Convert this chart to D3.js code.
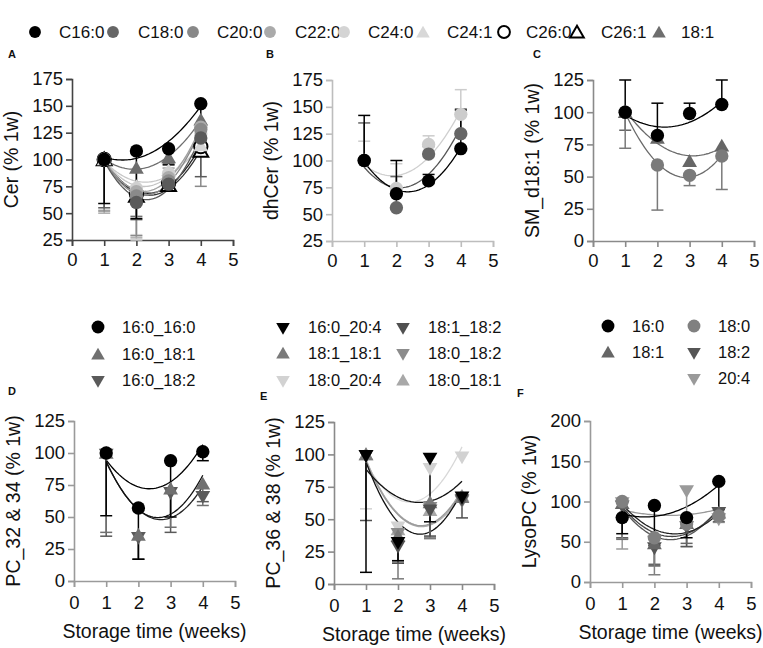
<!DOCTYPE html>
<html><head><meta charset="utf-8">
<script src="https://cdn.jsdelivr.net/npm/d3@7"></script>
<style>body{margin:0;background:#fff}svg{display:block;font-family:"Liberation Sans",Arial,sans-serif}</style>
</head><body><svg id="chart" width="763" height="648"></svg>
<script>
// ---------------- DATA ----------------
const weeks = [1, 2, 3, 4];
const xTickValues = [0, 1, 2, 3, 4, 5];

// A: Cer
const cerSeries = ["C16:0","C18:0","C20:0","C22:0","C24:0","C24:1","C26:0","C26:1","18:1"];
const cerValues = [[100,108,110,152],[100,60,77,120],[100,66,80,128],[100,70,83,130],[100,73,87,124],[100,75,90,113],[100,68,78,112],[100,66,76,108],[100,92,102,137]];
const cerErrEnd = [[59,45,95,108],[55,44,74,84],[52,29,75,75],[50,27,92,114],[53,25,92,116],[null,30,null,null],[null,null,null,null],[null,null,null,null],[97,47,96,113]];
const cerTicks = [25,50,75,100,125,150,175];

// B: dhCer
const dhSeries = ["C16:0","C18:0","C24:0"];
const dhValues = [[100,69,81,111],[100,56,106,125],[100,74,115,143]];
const dhErrEnd = [[142,100,87,147],[135,85,113,148],[118,97,123,166]];
const dhTicks = [25,50,75,100,125,150,175];

// C: SM_d18:1
const smSeries = ["C16:0","C18:0","18:1"];
const smValues = [[100,82,99,106],[100,59,51,66],[100,80,62,74]];
const smErrEnd = [[125,107,107,125],[72,24,43,40],[86,null,null,null]];
const smTicks = [0,25,50,75,100,125];

// D: PC_32 & 34
const pc34Series = ["16:0_16:0","16:0_18:1","16:0_18:2"];
const pc34Values = [[100,57,94,101],[100,36,72,76],[100,35,70,67]];
const pc34ErrEnd = [[51,17,50,94],[38,17,42,59],[35,17,38,62]];
const pc34Ticks = [0,25,50,75,100,125];

// E: PC_36 & 38
const pc38Series = ["16:0_20:4","18:1_18:2","18:1_18:1","18:0_18:2","18:0_20:4","18:0_18:1"];
const pc38Values = [[100,33,98,68],[100,30,58,66],[100,37,63,67],[100,40,60,65],[100,45,90,99],[100,42,57,68]];
const pc38ErrEnd = [[9,18,48,null],[49,16,37,51],[null,4,35,null],[null,17,36,null],[58,null,null,null],[null,null,null,null]];
const pc38Ticks = [0,25,50,75,100,125];

// F: LysoPC
const lysoSeries = ["16:0","18:0","18:1","18:2","20:4"];
const lysoValues = [[80,95,80,125],[100,55,72,82],[98,48,73,86],[96,44,70,88],[100,52,115,80]];
const lysoErrEnd = [[60,45,55,90],[54,9,null,null],[53,22,48,75],[55,20,44,null],[41,null,44,74]];
const lysoTicks = [0,50,100,150,200];

// ---------------- STYLES / LAYOUT ----------------
const svg = d3.select("#chart");
const TICK_FONT = 18.5, TITLE_FONT = 19.5, LEG_FONT = 16.5;

const panels = [
  {letter:"A", lx:8, ly:58, x0:72, x1:233, yTop:79, yBot:240, dom:[25,175], ticks:cerTicks, title:"Cer (% 1w)", axis:"#444",
   names:cerSeries, vals:cerValues, errs:cerErrEnd,
   colors:["#000","#5a5a5a","#8a8a8a","#ababab","#cfcfcf","#d6d6d6","#000","#000","#6e6e6e"],
   curve:["#000","#5a5a5a","#8a8a8a","#a0a0a0","#c4c4c4","#c8c8c8","#222","#333","#6e6e6e"],
   shapes:["circle","circle","circle","circle","circle","tri","ocircle","otri","tri"], xlabel:false},
  {letter:"B", lx:266, ly:58, x0:332, x1:493, yTop:80, yBot:241, dom:[25,175], ticks:dhTicks, title:"dhCer (% 1w)", axis:"#bdbdbd",
   names:dhSeries, vals:dhValues, errs:dhErrEnd,
   colors:["#000","#666","#cccccc"], curve:["#000","#555","#cfcfcf"], shapes:["circle","circle","circle"], xlabel:false},
  {letter:"C", lx:533, ly:58, x0:593, x1:754, yTop:80, yBot:241, dom:[0,125], ticks:smTicks, title:"SM_d18:1 (% 1w)", axis:"#8a8a8a",
   names:smSeries, vals:smValues, errs:smErrEnd,
   colors:["#000","#7a7a7a","#666"], curve:["#000","#6a6a6a","#6a6a6a"], shapes:["circle","circle","tri"], xlabel:false},
  {letter:"D", lx:8, ly:395, x0:74, x1:235, yTop:421, yBot:581, dom:[0,125], ticks:pc34Ticks, title:"PC_32 & 34 (% 1w)", axis:"#9a9a9a",
   names:pc34Series, vals:pc34Values, errs:pc34ErrEnd,
   colors:["#000","#707070","#5a5a5a"], curve:["#000","#111","#222"], shapes:["circle","tri","itri"], xlabel:true},
  {letter:"E", lx:260, ly:400, x0:334, x1:494, yTop:422, yBot:584, dom:[0,125], ticks:pc38Ticks, title:"PC_36 & 38 (% 1w)", axis:"#8a8a8a",
   names:pc38Series, vals:pc38Values, errs:pc38ErrEnd,
   colors:["#000","#505050","#7a7a7a","#8c8c8c","#d2d2d2","#a8a8a8"], curve:["#111","#111","#9a9a9a","#b0b0b0","#d8d8d8","#aaaaaa"],
   shapes:["itri","itri","tri","itri","itri","tri"], xlabel:true},
  {letter:"F", lx:517, ly:397, x0:590, x1:751, yTop:421, yBot:582, dom:[0,200], ticks:lysoTicks, title:"LysoPC (% 1w)", axis:"#9a9a9a",
   names:lysoSeries, vals:lysoValues, errs:lysoErrEnd,
   colors:["#000","#808080","#666","#555","#9a9a9a"], curve:["#000","#222","#444","#555","#999"],
   shapes:["circle","circle","tri","itri","itri"], xlabel:true}
];

function symbolPath(shape, size) {
  const type = (shape === "circle" || shape === "ocircle") ? d3.symbolCircle : d3.symbolTriangle;
  return d3.symbol().type(type).size(size)();
}
function drawMarker(g, shape, color, x, y, size) {
  const open = shape === "ocircle" || shape === "otri";
  const p = g.append("path").attr("d", symbolPath(shape, size))
    .attr("transform", `translate(${x},${y})` + (shape === "itri" ? " rotate(180)" : (shape==="tri"||shape==="otri") ? " translate(0,1.5)" : ""));
  if (open) p.attr("fill", "#fff").attr("stroke", color).attr("stroke-width", 2);
  else p.attr("fill", color);
}

// quadratic least squares fit of y on x
function quadFit(xs, ys) {
  const pts = xs.map((x,i)=>[x,ys[i]]).filter(p=>p[1]!=null);
  let S = [[0,0,0],[0,0,0],[0,0,0]], B = [0,0,0];
  pts.forEach(([x,y])=>{ const v=[1,x,x*x]; for(let i=0;i<3;i++){B[i]+=v[i]*y; for(let j=0;j<3;j++) S[i][j]+=v[i]*v[j];} });
  const M = S.map((r,i)=>[...r,B[i]]);
  for(let i=0;i<3;i++){ let mx=i; for(let k=i+1;k<3;k++) if(Math.abs(M[k][i])>Math.abs(M[mx][i])) mx=k; [M[i],M[mx]]=[M[mx],M[i]];
    for(let k=i+1;k<3;k++){const f=M[k][i]/M[i][i]; for(let j=i;j<4;j++) M[k][j]-=f*M[i][j];} }
  const c=[0,0,0]; for(let i=2;i>=0;i--){ let s=M[i][3]; for(let j=i+1;j<3;j++) s-=M[i][j]*c[j]; c[i]=s/M[i][i]; }
  return x => c[0]+c[1]*x+c[2]*x*x;
}

panels.forEach(p => {
  const x = d3.scaleLinear().domain([0,5]).range([p.x0, p.x1]);
  const y = d3.scaleLinear().domain(p.dom).range([p.yBot, p.yTop]);
  const g = svg.append("g");

  const xa = g.append("g").attr("transform", `translate(0,${p.yBot})`)
    .call(d3.axisBottom(x).tickValues(xTickValues).tickFormat(d3.format("d")).tickSizeOuter(0).tickSize(6).tickPadding(p.xlabel?9:7));
  const ya = g.append("g").attr("transform", `translate(${p.x0},0)`)
    .call(d3.axisLeft(y).tickValues(p.ticks).tickFormat(d3.format("d")).tickSizeOuter(0).tickSize(6).tickPadding(3));
  [xa, ya].forEach(a => {
    a.select(".domain").attr("stroke", p.axis).attr("stroke-width", 1.6);
    a.selectAll(".tick line").attr("stroke", p.axis).attr("stroke-width", 1.6);
    a.selectAll(".tick text").attr("fill", "#111").attr("font-size", TICK_FONT).attr("font-family", '"Liberation Sans",Arial,sans-serif');
  });

  g.append("text").attr("transform", `translate(${p.x0-54},${(p.yTop+p.yBot)/2}) rotate(-90)`)
    .attr("text-anchor","middle").attr("font-size", TITLE_FONT).attr("fill","#111").text(p.title);
  if (p.xlabel) g.append("text").attr("x",(p.x0+p.x1)/2).attr("y",p.yBot+57).attr("text-anchor","middle")
    .attr("font-size", TITLE_FONT).attr("fill","#111").text("Storage time (weeks)");
  g.append("text").attr("x",p.lx).attr("y",p.ly).attr("font-size",11).attr("font-weight","bold").attr("fill","#111").text(p.letter);

  const order = d3.range(p.names.length).reverse();
  const line = d3.line().x(d=>x(d[0])).y(d=>y(d[1]));
  order.forEach(i => {
    const f = quadFit(weeks, p.vals[i]);
    const pts = d3.range(0, 61).map(k => { const t = 1 + 3*k/60; return [t, f(t)]; });
    g.append("path").attr("d", line(pts)).attr("fill","none").attr("stroke", p.curve[i]).attr("stroke-width", 1.3);
  });
  order.forEach(i => {
    weeks.forEach((w,j) => {
      const e = p.errs[i][j], v = p.vals[i][j];
      if (e == null || v == null) return;
      const c = p.colors[i];
      g.append("line").attr("x1",x(w)).attr("x2",x(w)).attr("y1",y(v)).attr("y2",y(e)).attr("stroke",c).attr("stroke-width",1.5);
      g.append("line").attr("x1",x(w)-6).attr("x2",x(w)+6).attr("y1",y(e)).attr("y2",y(e)).attr("stroke",c).attr("stroke-width",1.5);
    });
  });
  order.forEach(i => {
    weeks.forEach((w,j) => {
      const v = p.vals[i][j]; if (v == null) return;
      const isTri = p.shapes[i] !== "circle" && p.shapes[i] !== "ocircle";
      drawMarker(g, p.shapes[i], p.colors[i], x(w), y(v), isTri ? 95 : 140);
    });
  });
});

// ---------------- LEGENDS ----------------
function legendItem(shape, color, mx, my, tx, label, fs, size) {
  drawMarker(svg, shape, color, mx, my, size);
  svg.append("text").attr("x", tx).attr("y", my).attr("dy","0.35em").attr("font-size", fs).attr("fill","#111").text(label);
}
const topLegendLabels = ["C16:0","C18:0","C20:0","C22:0","C24:0","C24:1","C26:0","C26:1","18:1"];
const topLegendShapes = ["circle","circle","circle","circle","circle","tri","ocircle","otri","tri"];
const topLegendColors = ["#000","#666","#888","#aaa","#d4d4d4","#d8d8d8","#000","#000","#6e6e6e"];
const topMarkerX = [35,113,193,270,344,423,504,577,659];
const topTextX = [59,138,217,295,368,447,526,601,681];
topLegendLabels.forEach((l,i)=>legendItem(topLegendShapes[i], topLegendColors[i], topMarkerX[i], 32, topTextX[i], l, 17, topLegendShapes[i]==="circle"||topLegendShapes[i]==="ocircle"?110:80));

const dLegendRows = [327, 354, 380];
pc34Series.forEach((s,i)=>legendItem(panels[3].shapes[i], panels[3].colors[i], 98, dLegendRows[i], 122, s, LEG_FONT, panels[3].shapes[i]==="circle"?130:80));
const eLegendPos = [[283,327],[403,327],[283,353],[403,353],[283,380],[403,380]];
pc38Series.forEach((s,i)=>legendItem(panels[4].shapes[i], panels[4].colors[i], eLegendPos[i][0], eLegendPos[i][1], eLegendPos[i][0]+25, s, LEG_FONT, 80));
const fLegendPos = [[608,326],[694,326],[608,352],[694,352],[694,378]];
lysoSeries.forEach((s,i)=>legendItem(panels[5].shapes[i], panels[5].colors[i], fLegendPos[i][0], fLegendPos[i][1], fLegendPos[i][0]+24, s, LEG_FONT, panels[5].shapes[i]==="circle"?130:80));
</script></body></html>
